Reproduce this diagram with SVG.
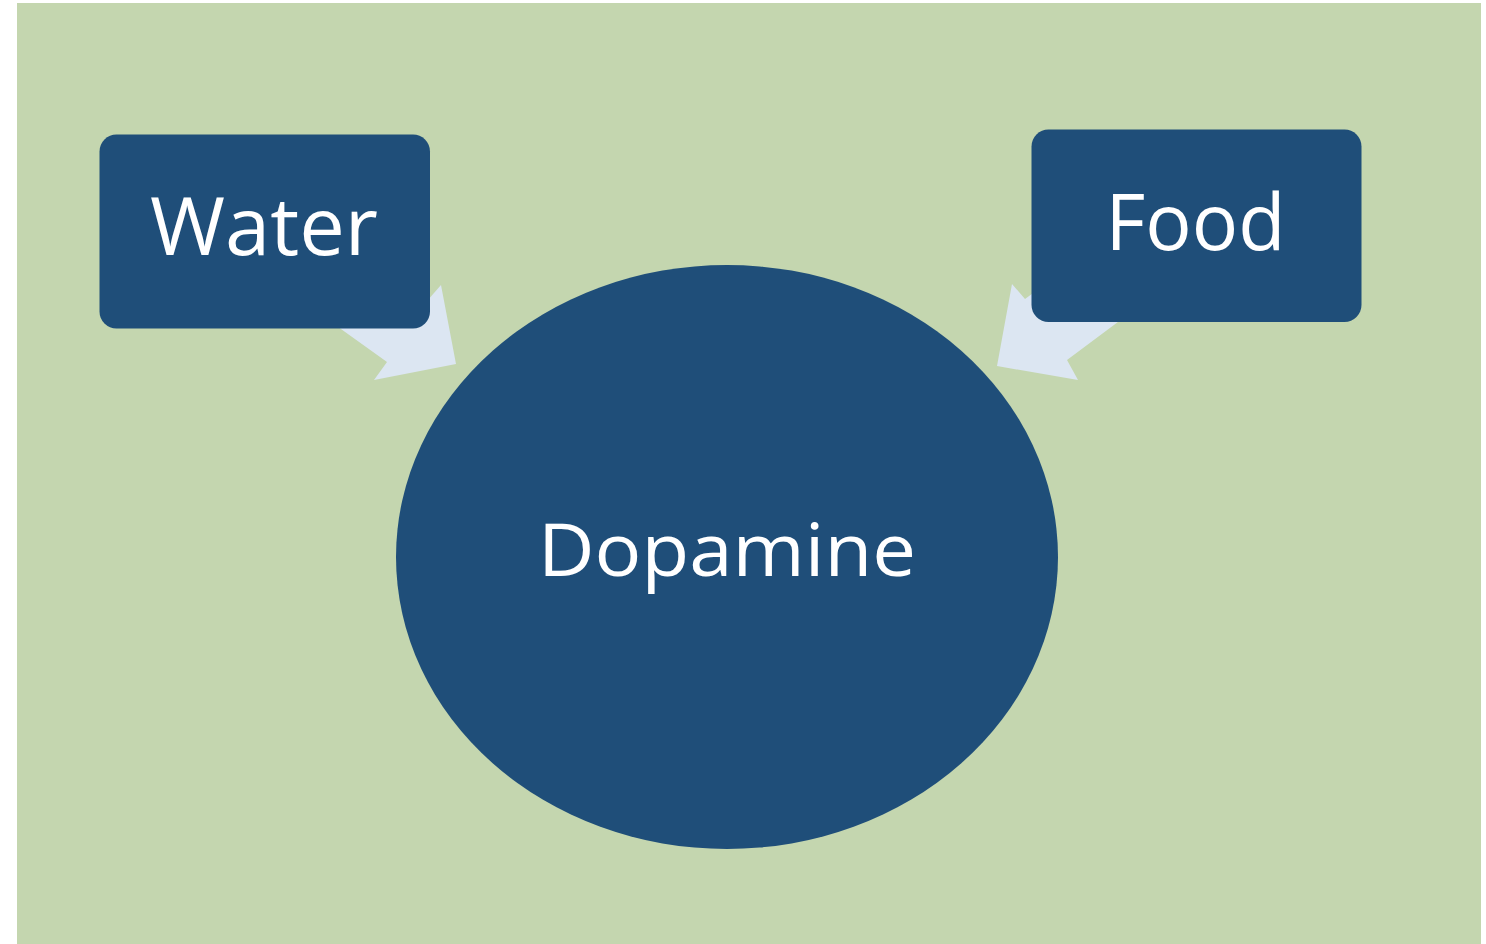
<svg xmlns="http://www.w3.org/2000/svg" width="1486" height="944" viewBox="0 0 1486 944">
<style>
.node{fill:#1F4E79}
.arrow{fill:#DCE6F2}
.label{fill:#FFFFFF;font-family:"Open Sans","Noto Sans","Liberation Sans",sans-serif;text-anchor:middle}
</style>
<rect x="0" y="0" width="1486" height="944" fill="#FFFFFF"/>
<rect x="17" y="3" width="1464" height="941" fill="#C4D6AF"/>
<g id="connectors">
<polygon class="arrow" points="456,364 441,285 427,301 367,258 320,314 387,362 374,380"/>
<polygon class="arrow" points="997,366 1012,284 1025,299 1085,255 1130,313 1067,360 1078,380"/>
</g>
<g id="node-dopamine">
<ellipse class="node" cx="727" cy="557" rx="331" ry="292"/>
<text class="label" x="727" y="576" font-size="74" textLength="378" lengthAdjust="spacingAndGlyphs">Dopamine</text>
</g>
<g id="node-water">
<rect class="node" x="99.5" y="134.5" width="330.5" height="194" rx="17"/>
<text class="label" x="264" y="255" font-size="81" textLength="228" lengthAdjust="spacingAndGlyphs">Water</text>
</g>
<g id="node-food">
<rect class="node" x="1031.5" y="129.5" width="330" height="192.5" rx="17"/>
<text class="label" x="1195.5" y="250" font-size="79" textLength="180" lengthAdjust="spacingAndGlyphs">Food</text>
</g>
</svg>
